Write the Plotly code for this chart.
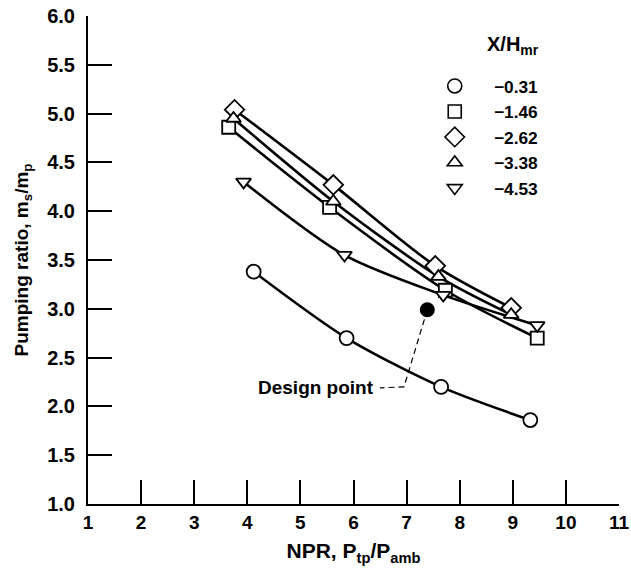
import plotly.graph_objects as go

# ---- data ----
series_labels = ["\u22120.31", "\u22121.46", "\u22122.62", "\u22123.38", "\u22124.53"]

npr_m031 = [4.12, 5.87, 7.65, 9.33]
pr_m031 = [3.38, 2.70, 2.20, 1.86]

npr_m146 = [3.65, 5.55, 7.73, 9.46]
pr_m146 = [4.86, 4.04, 3.19, 2.70]

npr_m262 = [3.76, 5.62, 7.54, 8.97]
pr_m262 = [5.04, 4.27, 3.44, 3.01]

npr_m338 = [3.74, 5.62, 7.60, 8.97]
pr_m338 = [4.95, 4.10, 3.33, 2.94]

npr_m453 = [3.93, 5.83, 7.69, 9.46]
pr_m453 = [4.30, 3.55, 3.14, 2.83]

design_npr = [7.39]
design_pr = [2.99]

# leader line from design point to its label
leader_npr = [7.39, 6.95, 6.50]
leader_pr = [2.99, 2.20, 2.19]
label_npr = 6.43
label_pr = 2.19

x_ticks = list(range(1, 12))
y_ticks = [1.0, 1.5, 2.0, 2.5, 3.0, 3.5, 4.0, 4.5, 5.0, 5.5, 6.0]

xs = [npr_m031, npr_m146, npr_m262, npr_m338, npr_m453]
ys = [pr_m031, pr_m146, pr_m262, pr_m338, pr_m453]
sizes = [14, 13, 15, 13, 13]
symbols = ["circle", "square", "diamond", "triangle-up", "triangle-down"]

FONT = "Liberation Sans"
NBSP = "\u00a0"
fig = go.Figure()

# curves
for x, y in zip(xs, ys):
    fig.add_trace(go.Scatter(x=x, y=y, mode="lines",
                             line=dict(color="black", width=2.6, shape="spline", smoothing=0.8),
                             showlegend=False, hoverinfo="skip"))
# markers
for x, y, sym, sz in zip(xs, ys, symbols, sizes):
    fig.add_trace(go.Scatter(x=x, y=y, mode="markers",
                             marker=dict(symbol=sym, size=sz, color="white", line=dict(color="black", width=1.8)),
                             showlegend=False))
# legend-only entries
for sym, sz, lab in zip(symbols, sizes, series_labels):
    fig.add_trace(go.Scatter(x=[None], y=[None], mode="markers", name=f"{NBSP*4}<b>{lab}</b>",
                             marker=dict(symbol=sym, size=sz, color="white", line=dict(color="black", width=1.6))))

# leader line and design point
fig.add_trace(go.Scatter(x=leader_npr, y=leader_pr, mode="lines",
                         line=dict(color="black", width=1.2, dash="6px,4px"), showlegend=False))
fig.add_trace(go.Scatter(x=design_npr, y=design_pr, mode="markers",
                         marker=dict(symbol="circle", size=15, color="black"), showlegend=False))

fig.add_annotation(x=label_npr, y=label_pr, xref="x", yref="y", text="<b>Design point</b>",
                   showarrow=False, xanchor="right", yanchor="middle",
                   font=dict(family=FONT, size=19, color="black"))

# legend title
fig.add_annotation(x=0.80, y=0.94, xref="paper", yref="paper", text="<b>X/H<sub>mr</sub></b>",
                   showarrow=False, xanchor="center", yanchor="middle",
                   font=dict(family=FONT, size=20, color="black"))

fig.update_layout(
    width=631, height=575,
    margin=dict(l=88, r=12, t=16, b=71),
    paper_bgcolor="white", plot_bgcolor="white",
    font=dict(family=FONT, size=18, color="black"),
    legend=dict(
        x=0.653, y=0.893, xanchor="left", yanchor="top",
        font=dict(family=FONT, size=17.3),
        bgcolor="rgba(0,0,0,0)", itemwidth=30, tracegroupgap=0,
    ),
    xaxis=dict(range=[1, 11], tickvals=x_ticks, ticktext=[f"<b>{v}</b>" for v in x_ticks],
               ticks="inside", ticklen=24, tickwidth=1.6, tickcolor="black",
               showline=True, linewidth=2, linecolor="black", showgrid=False, zeroline=False,
               tickfont=dict(family=FONT, size=19), automargin=False, ticklabeloverflow="allow",
               title=dict(text="<b>NPR, P<sub>tp</sub>/P<sub>amb</sub></b>", font=dict(family=FONT, size=21), standoff=12)),
    yaxis=dict(range=[1, 6], tickvals=y_ticks, ticktext=[f"<b>{v:.1f}</b>" for v in y_ticks],
               ticks="inside", ticklen=24, tickwidth=1.6, tickcolor="black",
               showline=True, linewidth=2, linecolor="black", showgrid=False, zeroline=False,
               tickfont=dict(family=FONT, size=20), ticklabelstandoff=7, automargin=False,
               ticklabeloverflow="allow",
               title=dict(text="<b>Pumping ratio, m<sub>s</sub>/m<sub>p</sub></b>", font=dict(family=FONT, size=19), standoff=14)),
)

fig.write_html("out.html", config={"displayModeBar": False},
               post_script="document.body.style.margin='0';")
